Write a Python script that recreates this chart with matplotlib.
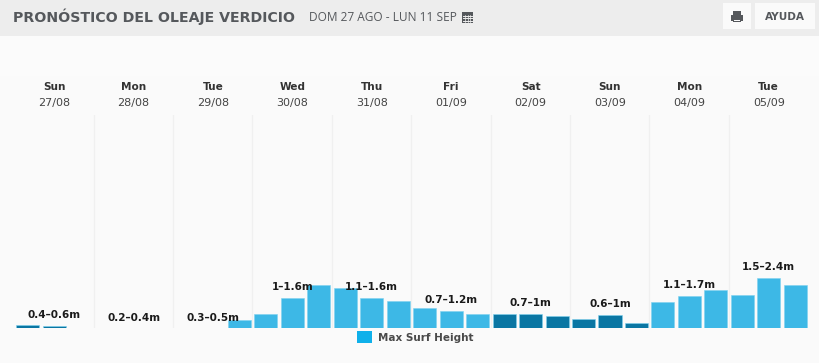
import matplotlib
matplotlib.use('Agg')
import matplotlib.pyplot as plt
from matplotlib.patches import Rectangle
import numpy as np

days = ['Sun', 'Mon', 'Tue', 'Wed', 'Thu', 'Fri', 'Sat', 'Sun', 'Mon', 'Tue']
dates = ['27/08', '28/08', '29/08', '30/08', '31/08', '01/09', '02/09', '03/09', '04/09', '05/09']
ranges = ['0.4–0.6m', '0.2–0.4m', '0.3–0.5m', '1–1.6m', '1.1–1.6m',
          '0.7–1.2m', '0.7–1m', '0.6–1m', '1.1–1.7m', '1.5–2.4m']
# one bar every 8 hours, three per day
surf = [0.15, 0.10, 0, 0, 0, 0, 0, 0, 0.37,
        0.67, 1.45, 2.06, 1.93, 1.45, 1.30,
        0.96, 0.81, 0.67, 0.67, 0.67, 0.57,
        0.44, 0.62, 0.24, 1.25, 1.54, 1.82,
        1.59, 2.40, 2.06]
# low confidence bars use the dark colour
dark = [1, 1, 0, 0, 0, 0, 0, 0, 0,
        0, 0, 0, 0, 0, 0,
        0, 0, 0, 1, 1, 1,
        1, 1, 1, 0, 0, 0,
        0, 0, 0]

W, H = 820, 363
LIGHT = '#3db8e6'
DARK = '#0a76a3'
TEXT = '#55585c'

fig = plt.figure(figsize=(W / 100, H / 100), dpi=100, facecolor='#fafafa')

# page furniture, in pixels
bg = fig.add_axes([0, 0, 1, 1])
bg.set_xlim(0, W)
bg.set_ylim(H, 0)
bg.axis('off')
bg.add_patch(Rectangle((0, 0), W, 36, color='#ededed', lw=0))
bg.add_patch(Rectangle((0, 36), W, 40, color='#fbfbfb', lw=0))
bg.add_patch(Rectangle((723, 3), 28, 26, color='#fafafa', lw=0))
bg.add_patch(Rectangle((755, 3), 60, 26, color='#fafafa', lw=0))

bg.text(13, 17, 'PRONÓSTICO DEL OLEAJE VERDICIO', fontsize=10.2, fontweight='bold',
        color=TEXT, va='center', family='DejaVu Sans')
bg.text(309, 17.5, 'DOM 27 AGO - LUN 11 SEP', fontsize=8.6, color=TEXT, va='center', family='Open Sans')
bg.text(785, 16.5, 'AYUDA', fontsize=7.6, fontweight='bold', color=TEXT, ha='center', va='center',
        family='DejaVu Sans')

# calendar icon
bg.add_patch(Rectangle((462, 12), 11, 11, color=TEXT, lw=0))
for yy in (15.5, 18, 20.5):
    bg.plot([463, 472], [yy, yy], color='#ededed', lw=0.7)
for xx in (465.5, 468, 470.5):
    bg.plot([xx, xx], [15, 22], color='#ededed', lw=0.5)

# printer icon
bg.add_patch(Rectangle((733, 11), 8, 4, color=TEXT, lw=0))
bg.add_patch(Rectangle((731, 15), 12, 6, color=TEXT, lw=0))
bg.add_patch(Rectangle((733, 19), 8, 3, color=TEXT, lw=0))
bg.add_patch(Rectangle((734, 19.5), 6, 1.5, color='#fafafa', lw=0))

# legend
bg.add_patch(Rectangle((357, 331), 15, 12, color='#0fb0ea', lw=0))
bg.text(378, 338, 'Max Surf Height', fontsize=7.5, fontweight='bold', color='#4a4a4a', va='center',
        family='DejaVu Sans')

# the chart itself
plot_left, plot_right = 14.5, 808.5
plot_top, plot_bottom = 115, 327.7
ax = fig.add_axes([plot_left / W, 1 - plot_bottom / H,
                   (plot_right - plot_left) / W, (plot_bottom - plot_top) / H])
ax.patch.set_alpha(0)
ax.set_xlim(-0.5, 29.5)
ax.set_ylim(0, 10.35)
for s in ax.spines.values():
    s.set_visible(False)
ax.set_xticks([])
ax.set_yticks([])

for x in np.arange(2.5, 27, 3):
    ax.axvline(x - 0.015, color='#f0f0f0', lw=1, zorder=1)

x = np.arange(len(surf))
colors = [DARK if d else LIGHT for d in dark]
ax.bar(x, surf, width=0.87, color=colors, edgecolor='#7fd2ef', linewidth=0.4, zorder=2)

# day headings and range labels, centred on the day
centres = np.arange(len(days)) * 3 + 1
trans = ax.get_xaxis_transform()
label_px = [315, 317.7, 317.7, 287, 287, 300, 303, 304, 285.5, 267.5]
span = plot_bottom - plot_top
for c, d, dt, r, py in zip(centres, days, dates, ranges, label_px):
    ax.text(c, (plot_bottom - 87.5) / span, d, transform=trans, ha='center',
            va='center', fontsize=7.6, fontweight='bold', color='#333333', family='DejaVu Sans', clip_on=False)
    ax.text(c, (plot_bottom - 103) / span, dt, transform=trans, ha='center',
            va='center', fontsize=8, color='#444444', family='DejaVu Sans', clip_on=False)
    ax.text(c, (plot_bottom - py) / span, r, transform=trans, ha='center',
            va='center', fontsize=7.5, fontweight='bold', color='#1a1a1a', family='DejaVu Sans',
            clip_on=False, zorder=5)

fig.savefig('out.png', dpi=100, facecolor=fig.get_facecolor())
